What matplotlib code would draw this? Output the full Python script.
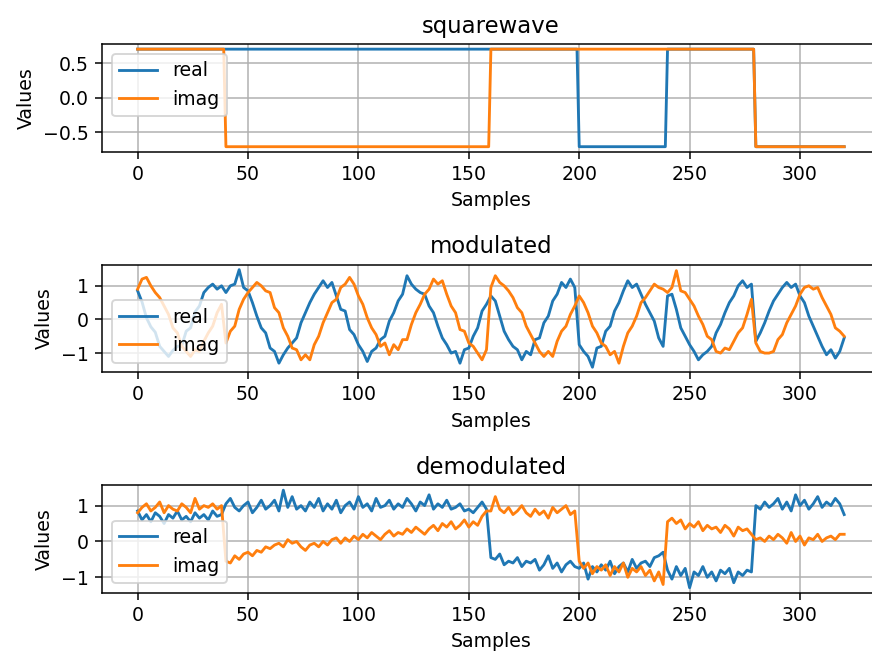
import matplotlib.pyplot as plt
import numpy as np

# square wave symbols, 40 samples each (last symbol is only the final sample)
sym_len = 40
sym_real = [0.707, 0.707, 0.707, 0.707, 0.707, -0.707, 0.707, -0.707, -0.707]
sym_imag = [0.707, -0.707, -0.707, -0.707, 0.707, 0.707, 0.707, -0.707, -0.707]

# modulated / demodulated signals, read every 2nd sample (0, 2, ..., 320)
mod_real = [
    0.85, 0.52, 0.05, -0.22, -0.38, -0.80, -0.95, -1.10, -0.92, -0.80, -0.78, -0.35, -0.25, 0.22, 0.40, 0.80, 0.95, 1.05, 0.90, 1.00,
    0.80, 1.00, 1.05, 1.48, 0.95, 0.85, 0.50, 0.10, -0.25, -0.40, -0.85, -0.95, -1.30, -1.05, -0.85, -0.70, -0.55, -0.10, 0.20, 0.50,
    0.75, 0.95, 1.15, 0.95, 1.10, 0.70, 0.30, 0.25, -0.30, -0.45, -0.75, -0.95, -1.25, -0.95, -0.85, -0.60, -0.50, -0.05, 0.20, 0.55,
    0.75, 1.30, 1.05, 0.90, 0.80, 0.75, 0.40, 0.20, -0.20, -0.55, -0.75, -1.00, -0.95, -1.30, -0.90, -0.85, -0.50, -0.25, 0.25, 0.45,
    0.70, 0.55, 0.10, -0.35, -0.60, -0.80, -0.90, -1.20, -0.95, -1.05, -0.60, -0.55, -0.10, 0.10, 0.55, 0.75, 1.10, 0.95, 1.20, 0.95,
    -0.75, -0.95, -1.10, -1.42, -0.85, -0.80, -0.35, -0.20, 0.25, 0.50, 0.85, 1.15, 0.95, 1.05, 0.75, 0.45, 0.20, -0.05, -0.55, -0.80,
    0.70, 0.75, 0.30, -0.25, -0.50, -0.75, -0.95, -1.20, -1.05, -0.95, -0.80, -0.40, -0.15, 0.20, 0.50, 0.70, 1.00, 1.15, 0.95, 1.05,
    -0.65, -0.40, -0.10, 0.25, 0.55, 0.75, 0.95, 1.10, 0.95, 1.05, 0.70, 0.50, 0.10, -0.20, -0.50, -0.80, -1.05, -0.90, -1.15, -0.95,
    -0.55,
]
mod_imag = [
    0.90, 1.20, 1.25, 1.00, 0.80, 0.65, 0.40, 0.15, -0.25, -0.40, -0.80, -0.95, -1.10, -0.90, -0.95, -0.65, -0.40, -0.20, 0.20, 0.45,
    -0.70, -0.35, -0.20, 0.30, 0.60, 0.80, 0.95, 1.10, 1.00, 0.85, 0.80, 0.35, 0.20, -0.25, -0.50, -0.85, -0.90, -1.20, -1.05, -1.20,
    -0.75, -0.50, -0.10, 0.20, 0.50, 0.60, 0.95, 1.05, 1.25, 1.05, 0.70, 0.45, 0.05, -0.25, -0.45, -0.80, -0.70, -1.05, -0.75, -0.90,
    -0.60, -0.60, -0.15, 0.20, 0.45, 0.75, 0.90, 1.20, 1.05, 1.15, 0.75, 0.40, 0.20, -0.30, -0.35, -0.70, -0.80, -1.00, -1.20, -0.90,
    0.95, 1.30, 1.10, 1.00, 0.85, 0.65, 0.35, 0.20, -0.20, -0.45, -0.70, -0.95, -1.10, -0.95, -1.10, -0.65, -0.35, -0.20, 0.15, 0.40,
    0.70, 0.50, 0.20, -0.20, -0.40, -0.70, -0.80, -1.05, -0.95, -1.30, -0.80, -0.40, -0.20, 0.10, 0.50, 0.65, 0.85, 1.05, 0.95, 0.90,
    0.80, 0.95, 1.45, 0.85, 0.80, 0.60, 0.40, 0.10, -0.15, -0.50, -0.60, -0.95, -1.00, -0.85, -0.90, -0.65, -0.40, -0.25, 0.15, 0.60,
    -0.70, -0.95, -1.00, -1.00, -0.95, -0.60, -0.45, -0.10, 0.15, 0.40, 0.75, 0.95, 1.00, 0.90, 0.95, 0.65, 0.40, 0.15, -0.25, -0.35,
    -0.50,
]
demod_real = [
    0.85, 0.60, 0.75, 0.55, 0.80, 0.70, 0.50, 0.75, 0.65, 0.85, 0.60, 0.70, 0.55, 0.80, 0.65, 0.75, 0.60, 0.85, 0.70, 0.75,
    1.05, 1.20, 0.95, 0.85, 1.00, 1.10, 0.80, 0.95, 1.15, 0.90, 1.00, 1.15, 0.85, 1.43, 0.95, 1.25, 0.90, 1.00, 0.85, 1.10,
    0.95, 1.20, 0.85, 1.05, 0.90, 1.15, 0.80, 1.00, 1.10, 0.90, 1.25, 0.95, 1.05, 0.85, 1.20, 0.95, 1.00, 1.15, 0.90, 1.05,
    0.95, 1.20, 1.05, 0.85, 1.10, 1.00, 1.30, 0.90, 1.05, 0.95, 1.15, 0.90, 0.95, 1.05, 0.85, 0.90, 0.80, 0.95, 1.10, 0.90,
    -0.45, -0.50, -0.35, -0.65, -0.55, -0.60, -0.45, -0.70, -0.55, -0.60, -0.50, -0.80, -0.65, -0.40, -0.75, -0.60, -0.85, -0.65, -0.55, -0.70,
    -0.75, -0.60, -1.05, -0.70, -0.85, -0.65, -0.80, -0.55, -0.90, -0.70, -0.60, -0.85, -0.50, -0.75, -0.60, -0.55, -0.70, -0.45, -0.40, -0.30,
    -0.80, -1.05, -0.70, -0.95, -0.75, -1.29, -0.85, -0.95, -0.70, -1.00, -0.85, -1.10, -0.80, -0.90, -0.75, -1.15, -0.85, -0.95, -0.80, -0.85,
    1.00, 0.90, 1.10, 0.95, 1.05, 1.20, 0.90, 1.10, 0.85, 1.30, 1.00, 1.15, 0.90, 1.05, 1.25, 0.95, 1.10, 1.00, 1.20, 1.05,
    0.75,
]
demod_imag = [
    0.80, 0.95, 1.05, 0.85, 0.95, 1.10, 0.80, 1.00, 0.90, 0.85, 1.05, 0.95, 0.80, 1.20, 0.90, 1.00, 0.95, 1.05, 0.90, 1.00,
    -0.55, -0.60, -0.40, -0.50, -0.35, -0.30, -0.40, -0.25, -0.30, -0.15, -0.20, -0.10, -0.05, -0.15, 0.05, -0.05, 0.00, -0.15, -0.25, -0.10,
    -0.05, -0.15, 0.00, -0.10, 0.05, 0.10, -0.05, 0.10, 0.00, 0.15, 0.05, 0.20, 0.10, 0.25, 0.15, 0.05, 0.20, 0.30, 0.15, 0.25,
    0.20, 0.35, 0.25, 0.40, 0.30, 0.20, 0.35, 0.45, 0.30, 0.50, 0.40, 0.55, 0.35, 0.45, 0.60, 0.40, 0.55, 0.45, 0.70, 0.85,
    0.85, 1.25, 0.90, 0.80, 0.95, 0.75, 0.85, 1.00, 0.80, 0.70, 0.90, 0.75, 0.85, 0.65, 0.95, 0.80, 0.90, 1.00, 0.75, 0.85,
    -0.55, -0.75, -0.60, -0.90, -0.70, -0.80, -0.65, -0.95, -0.70, -0.85, -0.60, -1.00, -0.75, -0.85, -0.70, -0.95, -0.80, -1.10, -0.85, -1.20,
    0.55, 0.65, 0.50, 0.60, 0.35, 0.50, 0.40, 0.55, 0.30, 0.45, 0.35, 0.40, 0.25, 0.45, 0.35, 0.15, 0.40, 0.30, 0.35, 0.20,
    0.05, 0.10, 0.00, 0.15, 0.05, 0.20, 0.10, -0.05, 0.25, 0.00, 0.15, -0.10, 0.10, 0.05, 0.20, 0.00, 0.10, 0.15, 0.05, 0.20,
    0.20,
]

n_samples = (len(sym_real) - 1) * sym_len + 1
x_sq = np.arange(n_samples)
sq_real = np.repeat(sym_real, sym_len)[:n_samples]
sq_imag = np.repeat(sym_imag, sym_len)[:n_samples]
x_sig = np.arange(0, n_samples, 2)

# default-sized figure rendered at a higher dpi; right edge is cut off in the original
dpi = 136.25
fig, axes = plt.subplots(3, 1, figsize=(872 / dpi, 651 / dpi), dpi=dpi)
fig.subplots_adjust(left=0.1173, right=1.0086, top=0.932, bottom=0.0897, hspace=1.055)

panels = [
    ('squarewave', x_sq, sq_real, sq_imag, 'upper left'),
    ('modulated', x_sig, mod_real, mod_imag, 'lower left'),
    ('demodulated', x_sig, demod_real, demod_imag, 'lower left'),
]
for ax, (title, x, re_vals, im_vals, leg_loc) in zip(axes, panels):
    ax.plot(x, re_vals, label='real')
    ax.plot(x, im_vals, label='imag')
    ax.set_title(title)
    ax.set_xlabel('Samples')
    ax.set_ylabel('Values')
    ax.grid(True)
    ax.legend(loc=leg_loc)

plt.savefig('out.png', dpi=dpi)
